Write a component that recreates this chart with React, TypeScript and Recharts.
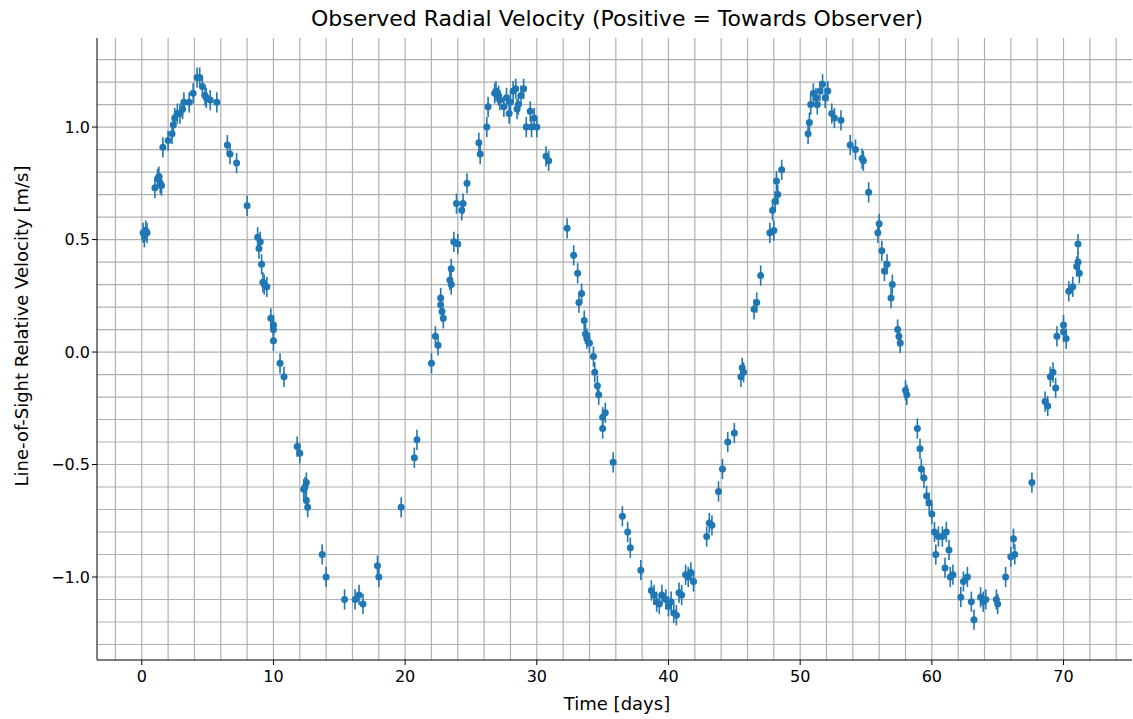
import { ScatterChart, Scatter, XAxis, YAxis, CartesianGrid, ErrorBar } from 'recharts';

const days = [
  0.1, 0.2, 0.4, 0.3, 1.0, 1.2, 1.3, 1.4, 1.5, 1.6, 2.0, 2.3, 2.4, 2.5, 2.7, 2.9, 3.1, 3.2, 3.6, 3.9,
  4.2, 4.4, 4.6, 4.8, 4.9, 5.2, 5.7, 6.5, 6.7, 7.2, 8.0, 8.8, 8.9, 9.0, 9.1, 9.2, 9.3, 9.5, 9.8, 10.0,
  10.0, 10.0, 10.5, 10.8, 11.8, 12.0, 12.3, 12.4, 12.5, 12.5, 12.6, 13.7, 14.0, 15.4, 16.2, 16.5, 16.8, 17.9, 18.0, 19.7,
  20.7, 20.9, 22.0, 22.3, 22.5, 22.7, 22.7, 22.8, 22.9, 23.4, 23.5, 23.5, 23.7, 23.9, 24.0, 24.3, 24.4, 24.7, 25.6, 25.7,
  26.2, 26.3, 26.8, 26.9, 27.1, 27.2, 27.5, 27.7, 27.9, 28.0, 28.2, 28.4, 28.5, 28.6, 28.8, 29.0, 29.2, 29.5, 29.6, 29.8,
  30.0, 30.7, 30.9, 32.3, 32.8, 33.1, 33.2, 33.4, 33.6, 33.7, 33.8, 34.0, 34.3, 34.4, 34.6, 34.7, 35.0, 35.0, 35.2, 35.8,
  36.5, 36.9, 37.1, 37.9, 38.7, 38.9, 39.1, 39.3, 39.5, 39.8, 40.0, 40.2, 40.4, 40.6, 40.8, 41.0, 41.3, 41.5, 41.7, 41.9,
  42.9, 43.1, 43.3, 43.8, 44.1, 44.5, 45.0, 45.5, 45.6, 45.7, 46.5, 46.7, 47.0, 47.7, 47.9, 48.0, 48.1, 48.2, 48.3, 48.6,
  50.6, 50.7, 50.8, 51.0, 51.2, 51.3, 51.5, 51.7, 51.9, 52.1, 52.4, 52.6, 53.1, 53.8, 54.2, 54.7, 54.8, 55.2, 55.9, 56.0,
  56.2, 56.4, 56.6, 56.9, 57.0, 57.4, 57.5, 57.6, 58.0, 58.1, 58.9, 59.1, 59.2, 59.4, 59.6, 59.8, 60.0, 60.2, 60.3, 60.5,
  60.8, 61.0, 61.1, 61.3, 61.4, 61.6, 62.2, 62.4, 62.7, 63.0, 63.2, 63.7, 63.9, 64.1, 64.9, 65.0, 65.6, 66.0, 66.2, 66.3,
  67.6, 68.6, 68.8, 69.0, 69.2, 69.4, 69.5, 70.0, 70.2, 70.0, 70.4, 70.7, 71.0, 71.1, 71.1, 71.2,
];

const velocity = [
  0.53, 0.51, 0.53, 0.54, 0.73, 0.77, 0.78, 0.75, 0.74, 0.91, 0.94, 0.97, 1.01, 1.04, 1.06, 1.06, 1.08, 1.11, 1.11, 1.15,
  1.22, 1.22, 1.18, 1.14, 1.13, 1.12, 1.11, 0.92, 0.88, 0.84, 0.65, 0.51, 0.46, 0.49, 0.39, 0.31, 0.3, 0.29, 0.15, 0.12,
  0.1, 0.05, -0.05, -0.11, -0.42, -0.45, -0.61, -0.6, -0.58, -0.66, -0.69, -0.9, -1.0, -1.1, -1.1, -1.08, -1.12, -0.95, -1.0, -0.69,
  -0.47, -0.39, -0.05, 0.07, 0.03, 0.21, 0.24, 0.18, 0.15, 0.32, 0.37, 0.3, 0.49, 0.66, 0.48, 0.63, 0.66, 0.75, 0.93, 0.88,
  1.0, 1.09, 1.15, 1.16, 1.14, 1.12, 1.09, 1.13, 1.06, 1.11, 1.16, 1.17, 1.08, 1.1, 1.14, 1.17, 1.0, 1.07, 1.0, 1.04,
  1.0, 0.87, 0.85, 0.55, 0.43, 0.35, 0.22, 0.26, 0.14, 0.08, 0.06, 0.04, -0.02, -0.09, -0.15, -0.19, -0.29, -0.34, -0.27, -0.49,
  -0.73, -0.8, -0.87, -0.97, -1.06, -1.08, -1.11, -1.12, -1.08, -1.1, -1.13, -1.11, -1.16, -1.17, -1.07, -1.08, -0.99, -1.0, -0.98, -1.02,
  -0.82, -0.76, -0.77, -0.62, -0.52, -0.4, -0.36, -0.11, -0.07, -0.09, 0.19, 0.22, 0.34, 0.53, 0.63, 0.54, 0.67, 0.76, 0.7, 0.81,
  0.97, 1.02, 1.1, 1.15, 1.13, 1.1, 1.16, 1.19, 1.13, 1.16, 1.06, 1.04, 1.03, 0.92, 0.9, 0.86, 0.85, 0.71, 0.53, 0.57,
  0.45, 0.36, 0.39, 0.24, 0.3, 0.1, 0.07, 0.04, -0.17, -0.19, -0.34, -0.43, -0.52, -0.56, -0.64, -0.67, -0.72, -0.8, -0.9, -0.82,
  -0.82, -0.96, -0.8, -0.88, -1.0, -0.99, -1.09, -1.02, -1.0, -1.11, -1.19, -1.09, -1.11, -1.1, -1.1, -1.12, -1.0, -0.91, -0.83, -0.9,
  -0.58, -0.22, -0.24, -0.11, -0.09, -0.16, 0.07, 0.12, 0.06, 0.09, 0.27, 0.29, 0.38, 0.4, 0.48, 0.35,
];

const xTicks = [0, 10, 20, 30, 40, 50, 60, 70];
const yTicks = [-1.0, -0.5, 0.0, 0.5, 1.0];
const xGrid = Array.from({ length: 39 }, (_, i) => -2 + i * 2);
const yGrid = Array.from({ length: 27 }, (_, i) => Math.round((-1.3 + i * 0.1) * 10) / 10);

const err = 0.045;
const data = days.map((d, i) => ({ t: d, v: velocity[i], e: err }));

const font = 'DejaVu Sans, sans-serif';
const fmtY = (v: number) => (v < 0 ? '\u2212' : '') + Math.abs(v).toFixed(1);

export default function App() {
  return (
    <div style={{ position: 'absolute', top: 0, left: 0, width: 1133, height: 719, overflow: 'hidden', background: '#fff', fontFamily: font }}>
      <div style={{ position: 'absolute', top: 6, left: 617, transform: 'translateX(-50%)', whiteSpace: 'nowrap', fontSize: 22, color: '#000' }}>
        Observed Radial Velocity (Positive = Towards Observer)
      </div>
      <div style={{ position: 'absolute', left: 617, top: 693, transform: 'translateX(-50%)', whiteSpace: 'nowrap', fontSize: 18 }}>Time [days]</div>
      <div style={{ position: 'absolute', left: 21, top: 326, transform: 'translate(-50%,-50%) rotate(-90deg)', whiteSpace: 'nowrap', fontSize: 18 }}>
        Line-of-Sight Relative Velocity [m/s]
      </div>
      <div style={{ position: 'absolute', top: 0, left: 0 }}>
        <ScatterChart width={1133} height={719} margin={{ top: 38, right: 1, bottom: 29, left: 37 }}>
          <CartesianGrid stroke="#b0b0b0" strokeWidth={1.2} verticalValues={xGrid} horizontalValues={yGrid} />
          <XAxis type="number" dataKey="t" domain={[-3.4, 75.2]} ticks={xTicks} allowDataOverflow height={30}
            stroke="#000" tick={{ fill: '#000', fontSize: 16, fontFamily: font, dy: 4 }} tickSize={5} interval={0} />
          <XAxis type="number" xAxisId="top" orientation="top" domain={[-3.4, 75.2]} height={0} tick={false} stroke="#000" tickLine={false} />
          <YAxis type="number" dataKey="v" domain={[-1.369, 1.396]} ticks={yTicks} allowDataOverflow width={60}
            stroke="#000" tick={{ fill: '#000', fontSize: 16, fontFamily: font }} tickSize={5} tickFormatter={fmtY} interval={0} />
          <YAxis type="number" yAxisId="right" orientation="right" domain={[-1.369, 1.396]} width={0} tick={false} stroke="#000" tickLine={false} />
          <Scatter data={data} fill="#1f77b4" isAnimationActive={false} shape={(p: any) => <circle cx={p.cx} cy={p.cy} r={3.5} fill="#1f77b4" />}>
            <ErrorBar dataKey="e" direction="y" width={0} stroke="#1f77b4" strokeWidth={1.6} />
          </Scatter>
        </ScatterChart>
      </div>
    </div>
  );
}
